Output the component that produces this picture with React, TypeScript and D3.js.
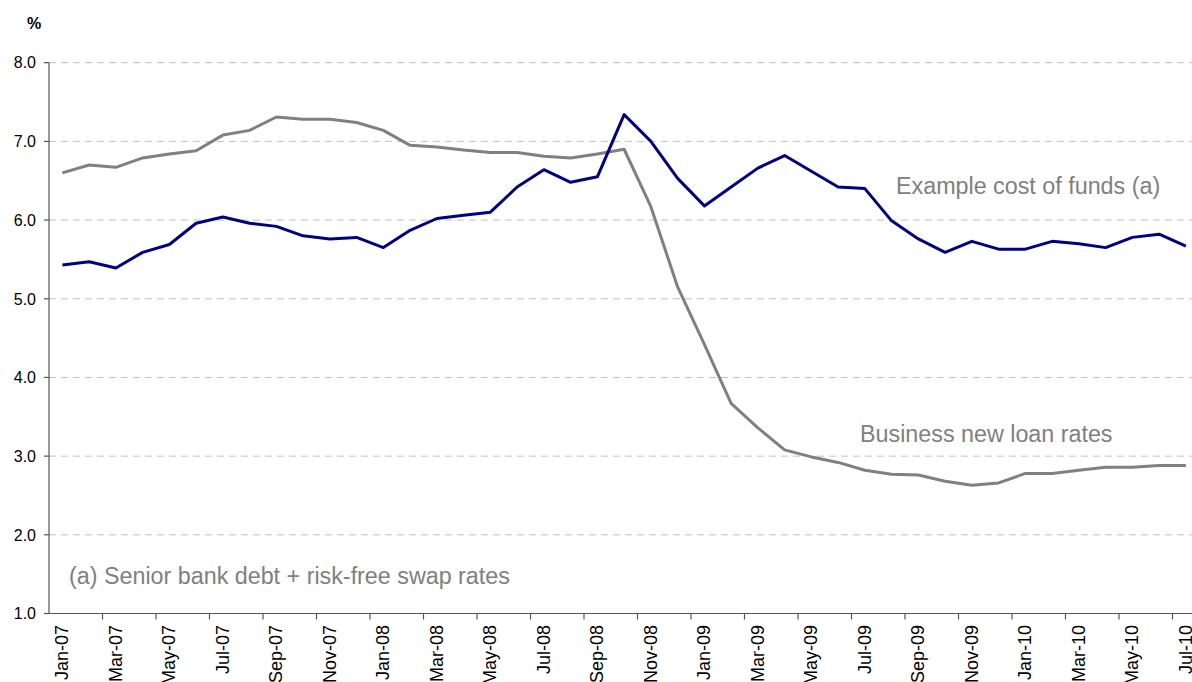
import React from "react";
import * as d3 from "d3";

const months: string[] = [
  "Jan-07","Feb-07","Mar-07","Apr-07","May-07","Jun-07","Jul-07","Aug-07","Sep-07","Oct-07","Nov-07","Dec-07",
  "Jan-08","Feb-08","Mar-08","Apr-08","May-08","Jun-08","Jul-08","Aug-08","Sep-08","Oct-08","Nov-08","Dec-08",
  "Jan-09","Feb-09","Mar-09","Apr-09","May-09","Jun-09","Jul-09","Aug-09","Sep-09","Oct-09","Nov-09","Dec-09",
  "Jan-10","Feb-10","Mar-10","Apr-10","May-10","Jun-10","Jul-10",
];

// Navy series
const navySeries: number[] = [
  5.43, 5.47, 5.39, 5.59, 5.69, 5.96, 6.04, 5.96, 5.92, 5.80, 5.76, 5.78,
  5.65, 5.87, 6.02, 6.06, 6.10, 6.42, 6.64, 6.48, 6.55, 7.34, 7.00, 6.53,
  6.18, 6.42, 6.66, 6.82, 6.62, 6.42, 6.40, 5.99, 5.76, 5.59, 5.73, 5.63,
  5.63, 5.73, 5.70, 5.65, 5.78, 5.82, 5.67,
];

// Grey series
const greySeries: number[] = [
  6.60, 6.70, 6.67, 6.79, 6.84, 6.88, 7.08, 7.14, 7.31, 7.28, 7.28, 7.24,
  7.14, 6.95, 6.93, 6.89, 6.86, 6.86, 6.81, 6.79, 6.84, 6.90, 6.17, 5.15,
  4.42, 3.67, 3.36, 3.08, 2.99, 2.92, 2.82, 2.77, 2.76, 2.68, 2.63, 2.66,
  2.78, 2.78, 2.82, 2.86, 2.86, 2.88, 2.88,
];

const yTicks: number[] = [1, 2, 3, 4, 5, 6, 7, 8];

const W = 1192;
const H = 682;
const FONT = "'Liberation Sans', Arial, Helvetica, sans-serif";

export default function App() {
  const left = 49;
  const monthW = 26.75;
  const x = d3
    .scaleBand<string>()
    .domain(months)
    .range([left, left + months.length * monthW])
    .paddingInner(0)
    .paddingOuter(0);
  const y = d3.scaleLinear().domain([1, 8]).range([613.5, 62.7]);

  const line = d3
    .line<number>()
    .x((_, i) => (x(months[i]) as number) + x.bandwidth() / 2)
    .y((d) => y(d));

  const labelIdx = months.map((_, i) => i).filter((i) => i % 2 === 0);
  const tickIdx = months.map((_, i) => i).filter((i) => i % 2 === 0 && i > 0);

  return (
    <svg
      width={W}
      height={H}
      style={{ position: "absolute", left: 0, top: 0, display: "block", background: "#fff" }}
      fontFamily={FONT}
    >
      {/* gridlines */}
      {yTicks
        .filter((t) => t > 1)
        .map((t) => (
          <line
            key={"g" + t}
            x1={left}
            x2={W}
            y1={y(t)}
            y2={y(t)}
            stroke="#c0c0c0"
            strokeWidth={1}
            strokeDasharray="7,5"
          />
        ))}
      {/* y axis */}
      <line x1={left} x2={left} y1={y(8)} y2={y(1)} stroke="#555" strokeWidth={1.2} />
      {yTicks.map((t) => (
        <g key={"yt" + t}>
          <line x1={left - 5} x2={left} y1={y(t)} y2={y(t)} stroke="#555" strokeWidth={1.2} />
          <text x={36} y={y(t)} dy="0.36em" textAnchor="end" fontSize={16} fill="#000">
            {t.toFixed(1)}
          </text>
        </g>
      ))}
      <text x={34} y={29} textAnchor="middle" fontSize={16} fontWeight="bold" fill="#000">
        %
      </text>
      {/* x axis */}
      <line x1={left} x2={W} y1={y(1)} y2={y(1)} stroke="#555" strokeWidth={1.2} />
      {tickIdx.map((i) => (
        <line
          key={"xt" + i}
          x1={x(months[i]) as number}
          x2={x(months[i]) as number}
          y1={y(1)}
          y2={y(1) + 6}
          stroke="#555"
          strokeWidth={1.2}
        />
      ))}
      {labelIdx.map((i) => {
        const cx = (x(months[i]) as number) + x.bandwidth() / 2;
        return (
          <text
            key={"xl" + i}
            transform={`translate(${cx + 6},625) rotate(-90)`}
            textAnchor="end"
            fontSize={18}
            fill="#000"
          >
            {months[i]}
          </text>
        );
      })}
      {/* series */}
      <path d={line(greySeries) || ""} fill="none" stroke="#808080" strokeWidth={3} strokeLinejoin="round" />
      <path d={line(navySeries) || ""} fill="none" stroke="#000080" strokeWidth={3} strokeLinejoin="round" />
      {/* annotations */}
      <text x={896} y={194} fontSize={23.3} fill="#808080">
        Example cost of funds (a)
      </text>
      <text x={860} y={442} fontSize={23.3} fill="#808080">
        Business new loan rates
      </text>
      <text x={69} y={584} fontSize={23.3} fill="#808080">
        (a) Senior bank debt + risk-free swap rates
      </text>
    </svg>
  );
}
